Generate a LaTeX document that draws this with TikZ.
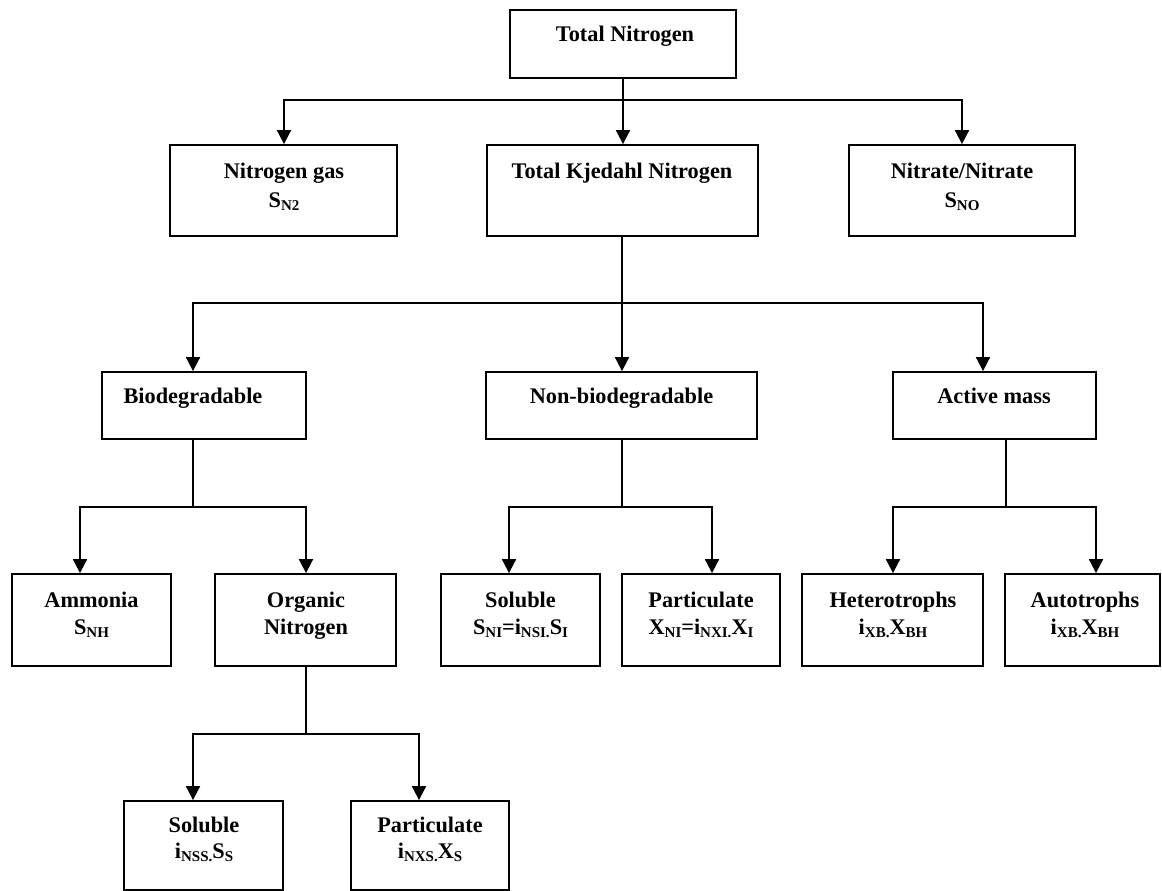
\documentclass[tikz,border=0pt]{standalone}
\usepackage{fontspec}
\setmainfont{Liberation Serif}
\usetikzlibrary{arrows.meta}
% lowered, smaller subscript text
\newcommand{\lsub}[1]{\raisebox{-3.5pt}{\fontsize{15}{15}\selectfont #1}}
\tikzset{
  box/.style={draw, line width=1.8pt, rectangle, inner sep=0pt, fill=white},
  lbl/.style={anchor=base, inner sep=0pt, font=\bfseries\fontsize{22.3}{26}\selectfont},
  link/.style={line width=1.8pt},
  arr/.style={line width=1.8pt, -{Triangle[length=14pt,width=14pt]}},
}
\begin{document}
\begin{tikzpicture}[x=1pt,y=-1pt]
\useasboundingbox (0,0) rectangle (1162,891);

% ---- boxes ----
\node[box, minimum width=226, minimum height=68] (tn)     at (623,44) {};
\node[box, minimum width=227, minimum height=91] (ngas)   at (283.5,190.5) {};
\node[box, minimum width=271, minimum height=91] (tkn)    at (622.5,190.5) {};
\node[box, minimum width=226, minimum height=91] (nitr)   at (962,190.5) {};
\node[box, minimum width=204, minimum height=67] (bio)    at (204,405.5) {};
\node[box, minimum width=271, minimum height=67] (nonbio) at (621.5,405.5) {};
\node[box, minimum width=203, minimum height=67] (act)    at (994.5,405.5) {};
\node[box, minimum width=159, minimum height=92] (amm)    at (91.5,620) {};
\node[box, minimum width=181, minimum height=92] (org)    at (305.5,620) {};
\node[box, minimum width=159, minimum height=92] (solni)  at (520.5,620) {};
\node[box, minimum width=158, minimum height=92] (partni) at (701,620) {};
\node[box, minimum width=181, minimum height=92] (het)    at (892.5,620) {};
\node[box, minimum width=155, minimum height=92] (aut)    at (1082.5,620) {};
\node[box, minimum width=159, minimum height=89] (solss)  at (203.5,845.5) {};
\node[box, minimum width=158, minimum height=89] (partxs) at (430,845.5) {};

% ---- labels ----
\node[lbl] (tn-a)     at (625,42)  {Total Nitrogen};
\node[lbl] (ngas-a)   at (284,178) {Nitrogen gas};
\node[lbl] (ngas-b)   at (284,207) {S\lsub{N2}};
\node[lbl] (tkn-a)    at (622,178) {Total Kjedahl Nitrogen};
\node[lbl] (nitr-a)   at (962,178) {Nitrate/Nitrate};
\node[lbl] (nitr-b)   at (962,207) {S\lsub{NO}};
\node[lbl] (bio-a)    at (193,403) {Biodegradable};
\node[lbl] (nonbio-a) at (621.5,403) {Non-biodegradable};
\node[lbl] (act-a)    at (994,403) {Active mass};
\node[lbl] (amm-a)    at (91.5,607) {Ammonia};
\node[lbl] (amm-b)    at (91.5,634) {S\lsub{NH}};
\node[lbl] (org-a)    at (306,607) {Organic};
\node[lbl] (org-b)    at (306,634) {Nitrogen};
\node[lbl] (solni-a)  at (520.5,607) {Soluble};
\node[lbl] (solni-b)  at (520.5,634) {S\lsub{NI}=i\lsub{NSI.}S\lsub{I}};
\node[lbl] (partni-a) at (701,607) {Particulate};
\node[lbl] (partni-b) at (701,634) {X\lsub{NI}=i\lsub{NXI.}X\lsub{I}};
\node[lbl] (het-a)    at (893,607) {Heterotrophs};
\node[lbl] (het-b)    at (893,634) {i\lsub{XB.}X\lsub{BH}};
\node[lbl] (aut-a)    at (1085,607) {Autotrophs};
\node[lbl] (aut-b)    at (1085,634) {i\lsub{XB.}X\lsub{BH}};
\node[lbl] (solss-a)  at (204,832) {Soluble};
\node[lbl] (solss-b)  at (204,858) {i\lsub{NSS.}S\lsub{S}};
\node[lbl] (partxs-a) at (430,832) {Particulate};
\node[lbl] (partxs-b) at (430,858) {i\lsub{NXS.}X\lsub{S}};

% ---- branch points ----
\coordinate (j0) at (623,100);
\coordinate (j1) at (622,303);
\coordinate (j2) at (193,507);
\coordinate (j3) at (622,507);
\coordinate (j4) at (1006,507);
\coordinate (j5) at (306,734);

% ---- connectors ----
\draw[link] (tn.south) -- (j0);
\draw[arr] (j0) -| (ngas.north -| 284,0);
\draw[arr] (j0) -- (tkn.north -| j0);
\draw[arr] (j0) -| (nitr.north);

\draw[link] (tkn.south -| j1) -- (j1);
\draw[arr] (j1) -| (bio.north -| j2);
\draw[arr] (j1) -- (nonbio.north -| j1);
\draw[arr] (j1) -| (act.north -| 983,0);

\draw[link] (bio.south -| j2) -- (j2);
\draw[arr] (j2) -| (amm.north -| 80,0);
\draw[arr] (j2) -| (org.north -| j5);

\draw[link] (nonbio.south -| j3) -- (j3);
\draw[arr] (j3) -| (solni.north -| 509,0);
\draw[arr] (j3) -| (partni.north -| 712,0);

\draw[link] (act.south -| j4) -- (j4);
\draw[arr] (j4) -| (het.north -| 893,0);
\draw[arr] (j4) -| (aut.north -| 1096,0);

\draw[link] (org.south -| j5) -- (j5);
\draw[arr] (j5) -| (solss.north -| 193,0);
\draw[arr] (j5) -| (partxs.north -| 419,0);
\end{tikzpicture}
\end{document}
